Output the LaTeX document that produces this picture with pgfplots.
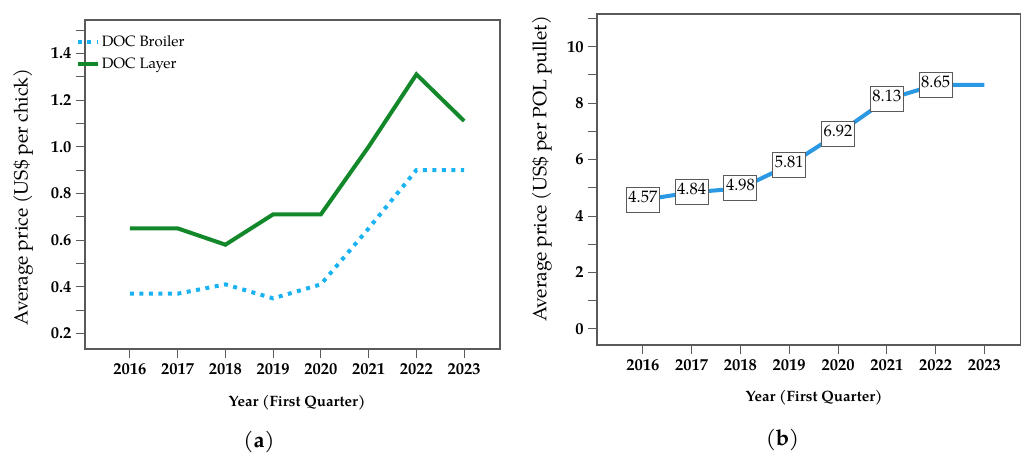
\documentclass[border=0pt]{standalone}
\usepackage{fontspec}
\setmainfont{TeX Gyre Pagella}
\usepackage{pgfplots}
\pgfplotsset{compat=1.18}
\definecolor{broiler}{HTML}{19B2F2}
\definecolor{layer}{HTML}{13882A}
\definecolor{pol}{HTML}{2A98E2}
\definecolor{axgray}{HTML}{5A5A5A}
\pgfplotsset{
  common/.style={
    scale only axis,
    axis line style={axgray, line width=1.3pt},
    every tick/.style={axgray, line width=1pt},
    tick align=outside,
    major tick length=9pt, minor tick length=9pt,
    xtick pos=bottom, ytick pos=left,
    xmin=2015.06, xmax=2023.75,
    xtick={2016,2017,2018,2019,2020,2021,2022,2023},
    /pgf/number format/assume math mode=true,
    /pgf/number format/1000 sep={},
    x tick label style={font=\fontsize{16.5}{18}\selectfont\bfseries, yshift=-2pt},
    y tick label style={font=\fontsize{16.5}{18}\selectfont\bfseries, xshift=-1pt},
    xlabel={Year (First Quarter)},
    xlabel style={anchor=center, font=\fontsize{15}{17}\selectfont\bfseries},
    ylabel style={anchor=center, font=\fontsize{19.3}{21}\selectfont},
  }
}
\begin{document}
\begin{tikzpicture}
\useasboundingbox (0pt,0pt) rectangle (1021pt,455pt);
% ---------- panel (a)
\begin{axis}[common,
  at={(85pt,106pt)}, anchor=south west, width=415pt, height=329pt,
  ymin=0.133, ymax=1.543,
  ytick={0.2,0.4,0.6,0.8,1.0,1.2,1.4},
  minor ytick={0.3,0.5,0.7,0.9,1.1,1.3,1.5},
  yticklabel style={/pgf/number format/.cd, fixed, fixed zerofill, precision=1},
  xlabel style={at={(axis description cs:0.511,-0.164)}},
  ylabel={Average price (US\$ per chick)},
  ylabel style={at={(axis description cs:-0.149,0.462)}},
  legend style={at={(axis description cs:-0.03,0.964)}, anchor=north west,
    draw=none, fill=none, font=\fontsize{15}{17}\selectfont, row sep=5.5pt},
  legend cell align=left,
  legend image code/.code={\draw[#1] (0pt,0pt) -- (20pt,0pt);},
]
\addplot[broiler, line width=4pt, dash pattern=on 4pt off 5.5pt] coordinates {
  (2016,0.37) (2017,0.37) (2018,0.41) (2019,0.35) (2020,0.41) (2021,0.65) (2022,0.90) (2023,0.90)};
\addlegendentry{DOC Broiler}
\addplot[layer, line width=4pt] coordinates {
  (2016,0.65) (2017,0.65) (2018,0.58) (2019,0.71) (2020,0.71) (2021,1.00) (2022,1.31) (2023,1.11)};
\addlegendentry{DOC Layer}
\end{axis}
% ---------- panel (b)
\begin{axis}[common,
  at={(597pt,110pt)}, anchor=south west, width=424pt, height=331pt,
  ymin=-0.57, ymax=11.16,
  ytick={0,2,4,6,8,10},
  minor ytick={1,3,5,7,9,11},
  xlabel style={at={(axis description cs:0.512,-0.160)}},
  ylabel={Average price (US\$ per POL pullet)},
  ylabel style={at={(axis description cs:-0.130,0.532)}},
]
\addplot[pol, line width=4pt] coordinates {
  (2016,4.57) (2017,4.84) (2018,4.98) (2019,5.81) (2020,6.92) (2021,8.13) (2022,8.65) (2023,8.65)};
\addplot[draw=none, mark=none, point meta=y,
  nodes near coords={\pgfmathprintnumber[fixed, fixed zerofill, precision=2]{\pgfplotspointmeta}},
  nodes near coords style={anchor=center, draw=axgray, fill=white, line width=1pt,
    font=\fontsize{16.5}{18}\selectfont, inner xsep=2pt, inner ysep=2pt,
    text height=13pt, text depth=8pt, minimum width=33pt}]
  coordinates {(2016,4.57) (2017,4.84) (2018,4.98) (2019,5.81) (2020,6.92) (2021,8.13) (2022,8.65)};
\end{axis}
\node[font=\fontsize{22}{24}\selectfont] at (259pt,13pt) {(\textbf{a})};
\node[font=\fontsize{22}{24}\selectfont] at (782.5pt,15pt) {(\textbf{b})};
\end{tikzpicture}
\end{document}
